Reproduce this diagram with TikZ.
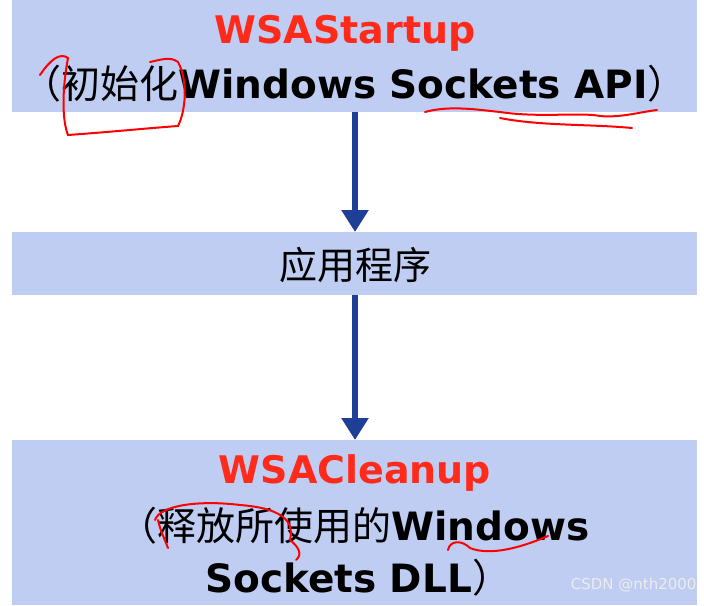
\documentclass[tikz,border=0pt]{standalone}
\usepackage{fontspec}
\setmainfont{DejaVu Sans}
\newfontfamily\cjk{Noto Sans CJK SC}
\usetikzlibrary{arrows.meta}
\definecolor{boxblue}{HTML}{BFCDF2}
\definecolor{arrblue}{HTML}{1F3E96}
\definecolor{wsared}{HTML}{FF2A1A}
\begin{document}
\begin{tikzpicture}[x=1pt,y=-1pt,
  box/.style={fill=boxblue,draw=none},
  flow/.style={draw=arrblue,line width=6pt,-{Triangle[length=22pt,width=26pt]}},
  title/.style={text=wsared,font=\fontsize{38}{42}\selectfont\bfseries},
  body/.style={font=\fontsize{39}{44}\selectfont\bfseries},
  scrib/.style={draw=red,line width=2pt,line cap=round}]
\useasboundingbox (0,0) rectangle (704,605);
\fill[white] (0,0) rectangle (704,605);
\fill[box] (12,0) rectangle (697,112);
\fill[box] (12,232) rectangle (697,295);
\fill[box] (12,440) rectangle (697,605);
\coordinate (t) at (355,112);
\coordinate (m1) at (355,232);
\coordinate (m2) at (355,295);
\coordinate (b) at (355,440);
\node[title] (t1) at (345,33) {WSAStartup};
\node[body,anchor=west,inner sep=0pt] (t2) at (22,84) {{\cjk\mdseries（初始化}Windows Sockets API{\cjk\mdseries）}};
\node[font=\fontsize{38}{42}\selectfont\cjk] (m) at (355,265) {应用程序};
\node[title] (b1) at (355,473) {WSACleanup};
\node[body,anchor=west,inner sep=0pt] (b2) at (118,526) {{\cjk\mdseries（释放所使用的}Windows};
\node[body,anchor=west,inner sep=0pt] (b3) at (205,578) {Sockets DLL{\cjk\mdseries）}};
\node[text=white!85!gray,font=\fontsize{15}{17}\selectfont,anchor=east] (wm) at (700,585) {CSDN @nth2000};
\draw[flow] (t) -- (m1);
\draw[flow] (m2) -- (b);
\draw[scrib] (40,75) .. controls (50,60) and (60,52) .. (68,58) .. controls (62,90) and (62,120) .. (68,135) .. controls (110,132) and (150,128) .. (178,126) .. controls (186,110) and (188,80) .. (178,62) .. controls (170,56) and (160,60) .. (150,62);
\draw[scrib] (425,112) .. controls (450,105) and (480,110) .. (500,112) .. controls (540,118) and (580,112) .. (600,116) .. controls (620,118) and (640,112) .. (657,110);
\draw[scrib] (500,118) .. controls (540,126) and (590,124) .. (632,128);
\draw[scrib] (155,520) .. controls (160,505) and (200,500) .. (240,505) .. controls (280,508) and (295,520) .. (290,540) .. controls (300,548) and (302,555) .. (296,560);
\draw[scrib] (158,520) .. controls (160,530) and (165,540) .. (168,548);
\draw[scrib] (448,550) .. controls (450,540) and (462,540) .. (470,548) .. controls (490,556) and (520,548) .. (548,536);
\end{tikzpicture}
\end{document}
